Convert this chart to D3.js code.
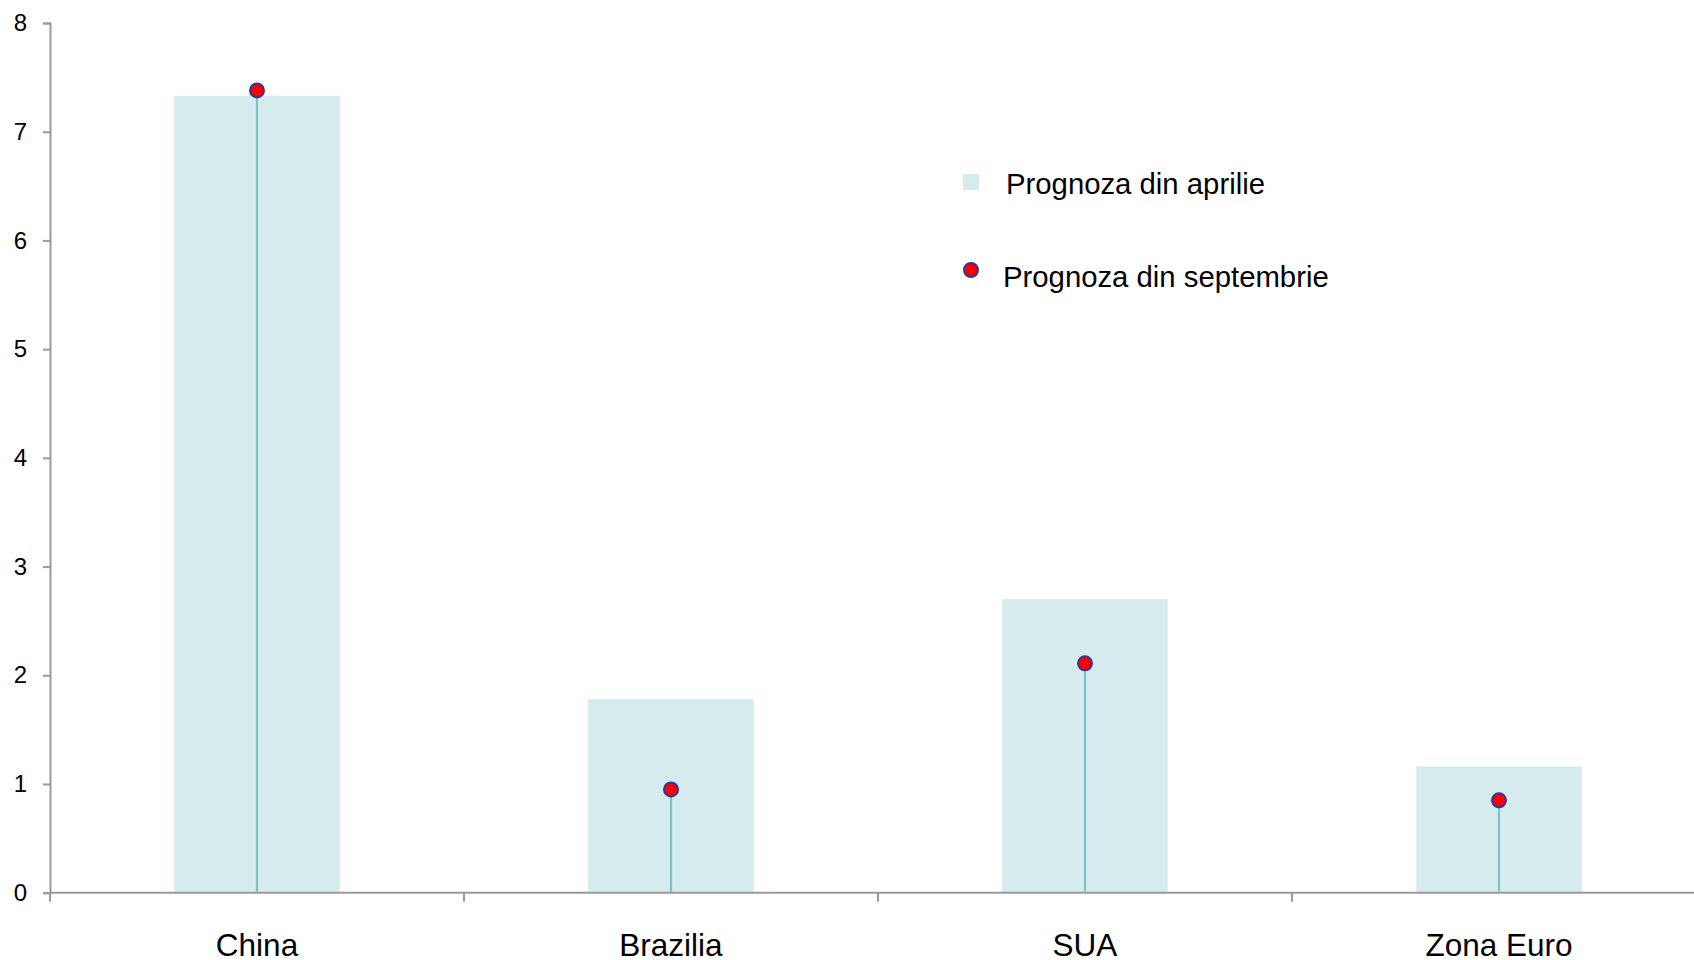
<!DOCTYPE html>
<html>

<head>
	<meta charset="utf-8">
	<script src="https://cdn.jsdelivr.net/npm/d3@7"></script>
	<style>
		body { margin: 0; background: #fff; }
		text { font-family: "Liberation Sans", Arial, sans-serif; fill: #000; }
		.axis path, .axis line { stroke: #9a9a9a; stroke-width: 2; }
		.bar { fill: #d6ebee; }
		.stem { stroke: #7cc3c6; stroke-width: 2.2; }
		.dot { fill: #ff0000; stroke: #333399; stroke-width: 2; }
	</style>
</head>

<body>
	<svg></svg>
	<script>

		var categories = ["China", "Brazilia", "SUA", "Zona Euro"];
		var aprilValues = [7.33, 1.78, 2.70, 1.16];
		var septValues = [7.38, 0.95, 2.11, 0.85];
		var yTicks = [0, 1, 2, 3, 4, 5, 6, 7, 8];
		var legendLabels = ["Prognoza din aprilie", "Prognoza din septembrie"];

		var width = 1694, height = 960;
		var margins = { left: 50, top: 23, bottom: 67 };

		var svg = d3.select('svg')
			.attr("width", width)
			.attr("height", height);

		var x = d3.scaleBand()
			.domain(categories)
			.range([margins.left, margins.left + 4 * 414]);

		var y = d3.scaleLinear()
			.domain([0, 8])
			.range([height - margins.bottom - 0.3, margins.top]);

		var barW = x.bandwidth() * 0.4;

		// bars (April forecast)
		svg.selectAll(".bar")
			.data(categories)
			.enter()
			.append("rect")
			.attr("class", "bar")
			.attr("x", d => x(d) + x.bandwidth() / 2 - barW / 2)
			.attr("width", barW)
			.attr("y", (d, i) => y(aprilValues[i]))
			.attr("height", (d, i) => y(0) - y(aprilValues[i]));

		// y axis
		var yAxis = svg.append("g")
			.attr("class", "axis")
			.attr("transform", "translate(" + margins.left + ",0)")
			.call(d3.axisLeft(y).tickValues(yTicks).tickSize(7).tickSizeOuter(7).tickPadding(16));
		yAxis.selectAll("text").style("font-size", "24px");

		// x axis: ticks on band boundaries
		var xAxis = svg.append("g")
			.attr("class", "axis")
			.attr("transform", "translate(0," + y(0) + ")");
		xAxis.append("line")
			.attr("x1", margins.left).attr("x2", width)
			.attr("y1", 0).attr("y2", 0);
		xAxis.selectAll(".btick")
			.data(categories)
			.enter()
			.append("line")
			.attr("x1", d => x(d)).attr("x2", d => x(d))
			.attr("y1", 0).attr("y2", 9);
		xAxis.selectAll(".clabel")
			.data(categories)
			.enter()
			.append("text")
			.attr("x", d => x(d) + x.bandwidth() / 2)
			.attr("y", 63)
			.attr("text-anchor", "middle")
			.style("font-size", "31.5px")
			.text(d => d);

		// stems and dots (September forecast)
		svg.selectAll(".stem")
			.data(categories)
			.enter()
			.append("line")
			.attr("class", "stem")
			.attr("x1", d => x(d) + x.bandwidth() / 2)
			.attr("x2", d => x(d) + x.bandwidth() / 2)
			.attr("y1", y(0) - 1)
			.attr("y2", (d, i) => y(septValues[i]));
		svg.selectAll(".dot")
			.data(categories)
			.enter()
			.append("circle")
			.attr("class", "dot")
			.attr("cx", d => x(d) + x.bandwidth() / 2)
			.attr("cy", (d, i) => y(septValues[i]))
			.attr("r", 7);

		// legend
		var legend = svg.append("g");
		legend.append("rect")
			.attr("class", "bar")
			.attr("x", 963).attr("y", 174)
			.attr("width", 16).attr("height", 16);
		legend.append("text")
			.attr("x", 1006).attr("y", 194)
			.style("font-size", "29.3px")
			.text(legendLabels[0]);
		legend.append("circle")
			.attr("class", "dot")
			.attr("cx", 971).attr("cy", 270)
			.attr("r", 7);
		legend.append("text")
			.attr("x", 1003).attr("y", 287)
			.style("font-size", "29.3px")
			.text(legendLabels[1]);
	</script>
</body>

</html>
